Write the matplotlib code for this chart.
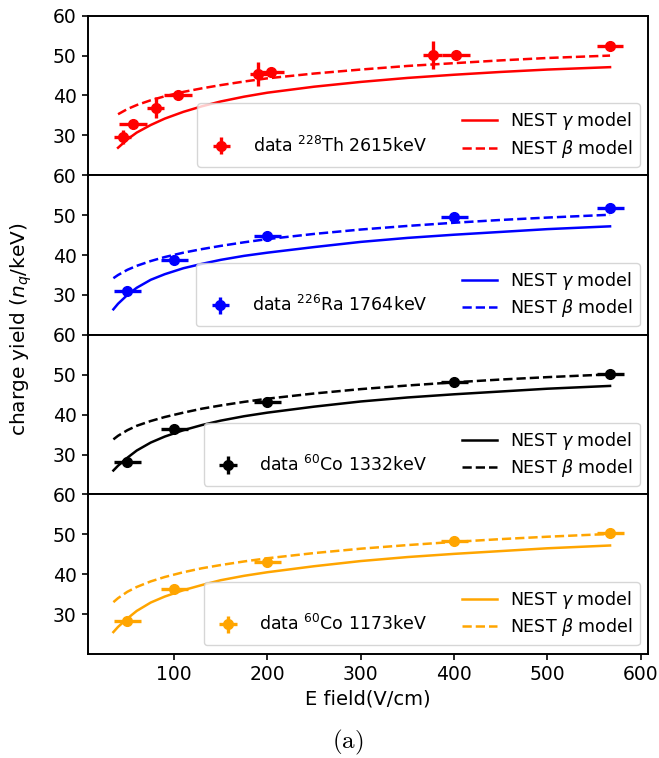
import matplotlib.pyplot as plt
from matplotlib.lines import Line2D

# measured points (E field in V/cm, charge yield in n_q/keV)
th_x = [45, 55.7, 80.2, 104.7, 190.2, 203.7, 377, 401.5, 567]
th_y = [29.6, 32.75, 36.9, 40.0, 45.4, 46.0, 50.25, 50.25, 52.5]
th_xerr = [9, 15, 9, 15, 9, 14.5, 10, 15, 14]
th_yerr = [1.8, 0.5, 2.6, 0.5, 3.0, 0.5, 3.5, 0.5, 0.5]

src_x = [50, 100, 200, 400, 567]
src_xerr = [14.5, 14.5, 14.5, 14.5, 14.5]
ra_y = [30.9, 38.8, 44.75, 49.5, 51.8]
ra_yerr = [0.5, 0.5, 0.5, 0.6, 0.8]
co1332_y = [28.25, 36.3, 43.1, 48.1, 50.3]
co1332_yerr = [0.5, 0.5, 0.5, 0.5, 0.5]
co1173_y = [28.25, 36.3, 43.1, 48.25, 50.4]
co1173_yerr = [0.5, 0.5, 0.5, 0.5, 0.5]

# NEST model curves
th_mx = [40, 50, 60, 75, 90, 110, 130, 150, 175, 200, 250, 300, 350, 400, 450, 500, 567]
th_gamma = [26.9, 29.0, 30.7, 32.6, 34.2, 35.9, 37.3, 38.5, 39.7, 40.7, 42.2, 43.4, 44.4, 45.2, 45.9, 46.5, 47.1]
th_beta = [35.3, 36.6, 37.6, 38.8, 39.8, 40.9, 41.8, 42.6, 43.5, 44.3, 45.5, 46.5, 47.4, 48.1, 48.8, 49.4, 50.0]

mx = [35, 40, 50, 60, 75, 90, 110, 130, 150, 175, 200, 250, 300, 350, 400, 450, 500, 567]
ra_gamma = [26.4, 27.8, 30.0, 31.8, 33.8, 35.2, 36.7, 37.8, 38.8, 39.8, 40.6, 42.0, 43.3, 44.3, 45.1, 45.8, 46.5, 47.2]
ra_beta = [34.2, 35.0, 36.3, 37.3, 38.5, 39.5, 40.6, 41.5, 42.3, 43.2, 44.0, 45.3, 46.4, 47.3, 48.1, 48.8, 49.4, 50.1]
co1332_gamma = [26.0, 27.2, 29.2, 31.0, 33.0, 34.5, 36.1, 37.4, 38.5, 39.6, 40.5, 42.0, 43.3, 44.3, 45.1, 45.8, 46.5, 47.2]
co1332_beta = [33.8, 34.7, 36.1, 37.2, 38.4, 39.4, 40.5, 41.5, 42.3, 43.2, 44.0, 45.3, 46.4, 47.3, 48.1, 48.8, 49.4, 50.1]
co1173_gamma = [25.5, 26.8, 28.9, 30.8, 32.9, 34.4, 36.0, 37.3, 38.5, 39.6, 40.5, 42.0, 43.3, 44.3, 45.1, 45.8, 46.5, 47.2]
co1173_beta = [33.0, 34.0, 35.6, 36.8, 38.2, 39.3, 40.5, 41.5, 42.3, 43.2, 44.0, 45.3, 46.4, 47.3, 48.1, 48.8, 49.4, 50.1]

panels = [
    ("red", th_x, th_y, th_xerr, th_yerr, th_mx, th_gamma, th_beta, r"data $^{228}$Th 2615keV"),
    ("blue", src_x, ra_y, src_xerr, ra_yerr, mx, ra_gamma, ra_beta, r"data $^{226}$Ra 1764keV"),
    ("black", src_x, co1332_y, src_xerr, co1332_yerr, mx, co1332_gamma, co1332_beta, r"data $^{60}$Co 1332keV"),
    ("orange", src_x, co1173_y, src_xerr, co1173_yerr, mx, co1173_gamma, co1173_beta, r"data $^{60}$Co 1173keV"),
]

plt.rcParams["axes.linewidth"] = 1.4
plt.rcParams["xtick.major.size"] = 4.5
plt.rcParams["ytick.major.size"] = 4.5
plt.rcParams["xtick.major.width"] = 1.2
plt.rcParams["ytick.major.width"] = 1.2

fig, axes = plt.subplots(4, 1, sharex=True, figsize=(6.59, 7.58), dpi=100)
fig.subplots_adjust(left=0.1331, right=0.9838, top=0.9793, bottom=0.1372, hspace=0)

for ax, (c, x, y, xe, ye, m, g, b, lab) in zip(axes, panels):
    eb = ax.errorbar(x, y, xerr=xe, yerr=ye, fmt="o", color=c, ms=7,
                     elinewidth=2.4, capsize=0)
    lg, = ax.plot(m, g, "-", color=c, lw=1.8)
    lb, = ax.plot(m, b, "--", color=c, lw=1.8)
    # empty first slot so the data entry sits in the lower row
    blank = Line2D([], [], color="none")
    ax.legend([blank, eb, lg, lb],
              ["", lab, r"NEST $\gamma$ model", r"NEST $\beta$ model"],
              ncol=2, loc="lower right", fontsize=12.5, labelspacing=0.3)
    ax.set_ylim(20, 60)
    ax.set_yticks([30, 40, 50, 60])
    ax.tick_params(labelsize=13.5)

axes[-1].set_xlim(7.5, 608)
axes[-1].set_xticks([100, 200, 300, 400, 500, 600])
axes[-1].set_xlabel("E field(V/cm)", fontsize=14)

fig.text(0.033, 0.565, "charge yield ($n_q$/keV)", rotation=90,
         ha="center", va="center", fontsize=14.5)
fig.text(0.528, 0.021, r"$\mathrm{(a)}$", math_fontfamily="cm",
         ha="center", va="center", fontsize=18)

plt.savefig("out.png")
plt.close()
